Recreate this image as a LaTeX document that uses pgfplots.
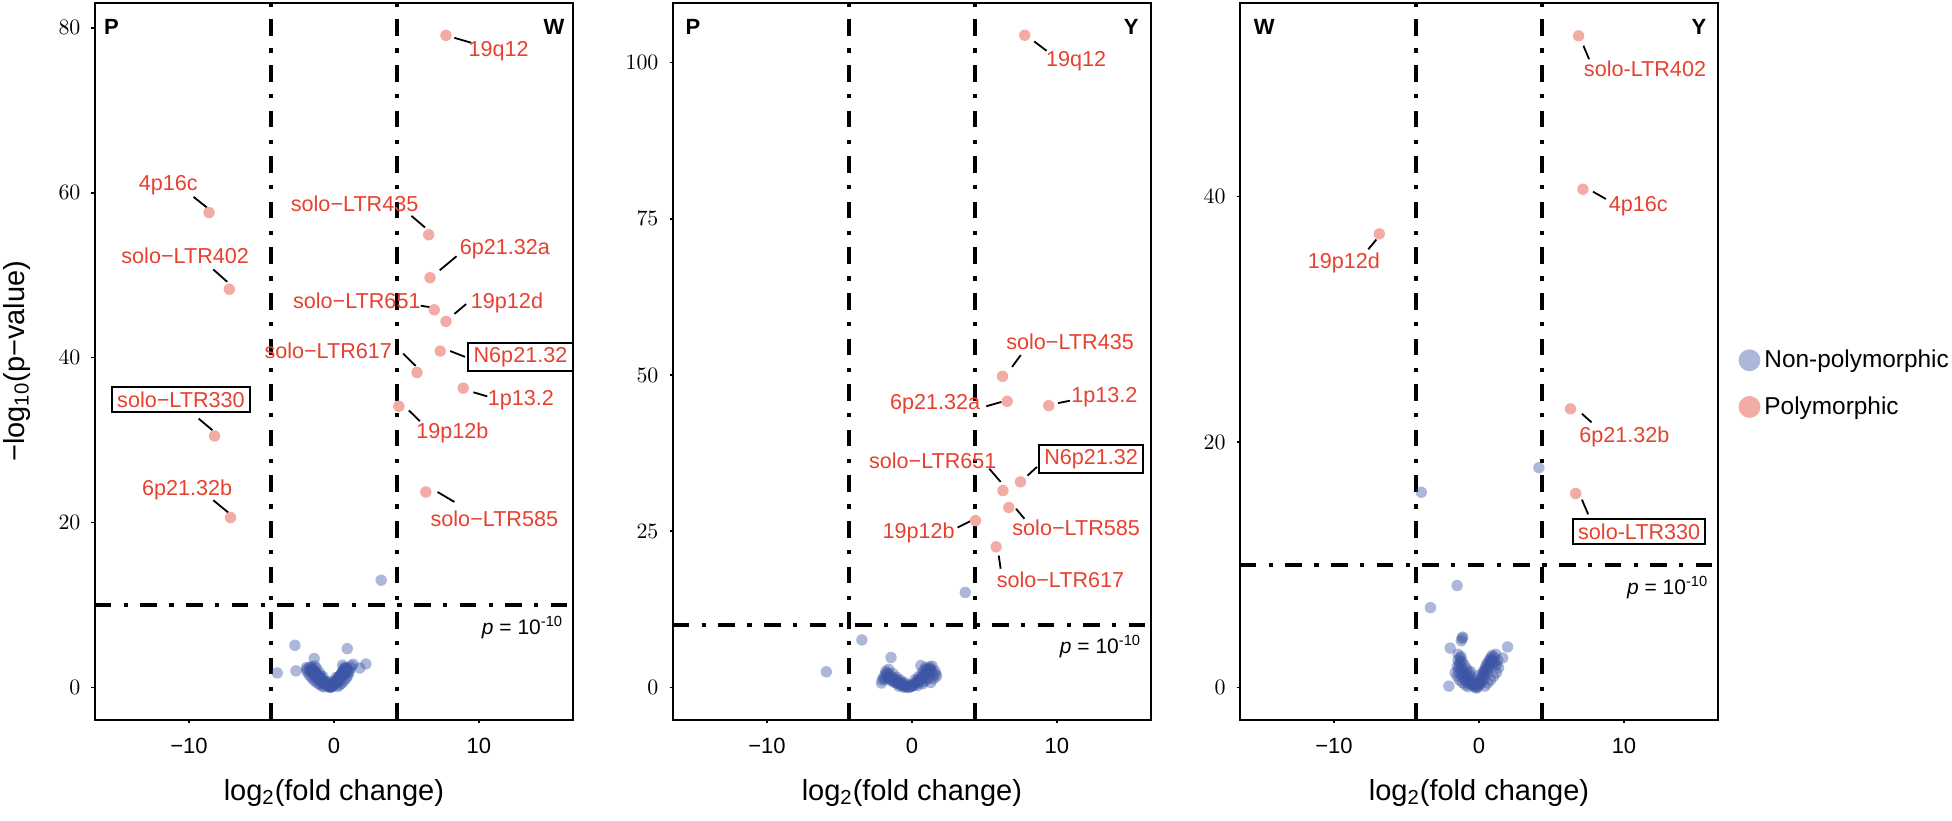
\documentclass[border=0pt]{standalone}
\usepackage{fontspec}
\setmainfont{Liberation Sans}
\usepackage{pgfplots}
\pgfplotsset{compat=1.18}

\definecolor{labred}{HTML}{E8402F}
\definecolor{ptpink}{HTML}{F3ABA5}
\definecolor{ptblue}{HTML}{3C54A5}

\pgfplotsset{
  volcano/.style={
    scale only axis, width=239.2pt, height=358.65pt, anchor=north west,
    xmin=-16.5, xmax=16.5, clip=false,
    axis line style={line width=1pt},
    tick align=outside, major tick length=1.6pt,
    tick style={line width=0.8pt, black},
    xtick={-10,0,10}, xticklabels={−10,0,10},
    xtick pos=bottom, ytick pos=left,
    ticklabel style={font=\fontsize{11}{13}\selectfont},
    xticklabel style={yshift=-4pt},
    yticklabel style={xshift=-2pt},
    xlabel={log\textsubscript{2}(fold change)},
    label style={font=\fontsize{14.5}{16}\selectfont},
    xlabel style={at={(axis description cs:0.5,-0.1018)}, anchor=center},
  },
  blue pts/.style={only marks, mark=*, mark size=2.85pt,
    mark options={fill=ptblue, fill opacity=0.42, draw opacity=0, line width=0pt},
    legend image code/.code={\fill[ptblue!42] (0pt,0pt) circle (5.25pt);}},
  pink pts/.style={only marks, mark=*, mark size=2.85pt,
    mark options={fill=ptpink, draw opacity=0, line width=0pt},
    legend image code/.code={\fill[ptpink] (0pt,0pt) circle (5.25pt);}},
  cut/.style={no marks, black, line width=2pt,
    dash pattern=on 8.3pt off 6.2pt on 2.1pt off 6.2pt},
}
\tikzset{
  lab/.style={text=labred, font=\fontsize{10.8}{12}\selectfont, inner sep=0pt},
  labbox/.style={lab, draw=black, line width=1pt, inner xsep=2.6pt, inner ysep=2.2pt},
  seg/.style={black, line width=0.9pt},
  corner/.style={font=\bfseries\fontsize{11}{13}\selectfont},
  pnote/.style={anchor=east, font=\fontsize{10.5}{12}\selectfont},
}

\begin{document}
\begin{tikzpicture}
\path[use as bounding box] (0pt,0pt) rectangle (976pt,-410pt);

% ---------------- P vs W ----------------
\begin{axis}[volcano, at={(47.35pt,-1.35pt)},
  ymin=-3.96, ymax=83.06, ytick={0,20,40,60,80},
  ylabel={−log\textsubscript{10}(p−value)},
  ylabel style={at={(axis description cs:-0.1628,0.5)}, anchor=center}]
\addplot[blue pts] coordinates {
  (3.26,13.0) (-2.69,5.1) (0.92,4.7) (-1.36,3.5) (-3.91,1.75) (-2.62,2.0)
  (-1.88,2.15) (0.6,2.7) (1.33,2.8) (1.79,2.35) (2.21,2.84) (-1.31,2.6)
  (-1.7,2.4) (-1.6,2.1) (-1.55,2.5) (-1.5,1.8) (-1.45,2.2) (-1.4,1.6)
  (-1.35,2.0) (-1.3,1.4) (-1.25,1.8) (-1.2,1.2) (-1.15,1.6) (-1.1,1.1)
  (-1.05,1.4) (-1.0,0.9) (-0.95,1.2) (-0.9,0.8) (-0.85,1.0) (-0.8,0.6)
  (-0.75,0.9) (-0.7,0.5) (-0.65,0.7) (-0.6,0.4) (-0.55,0.5) (-0.5,0.3)
  (-0.45,0.35) (-0.4,0.15) (-0.35,0.1) (-0.3,0.05) (-0.25,0.0)
  (-0.2,0.05) (-0.15,0.15) (-0.1,0.2) (-0.05,0.35) (0.0,0.4) (0.05,0.55)
  (0.1,0.6) (0.15,0.8) (0.2,0.85) (0.25,1.0) (0.3,1.1) (0.35,1.3)
  (0.4,1.35) (0.45,1.5) (0.5,1.6) (0.55,1.8) (0.6,1.9) (0.65,2.0)
  (0.7,2.2) (0.75,2.1) (0.8,2.4) (0.85,1.9) (0.9,2.3) (1.0,2.0)
  (0.7,1.6) (0.5,1.2) (0.3,0.7) (-0.5,0.6) (-0.9,1.4) (-1.2,2.3) (-1.0,1.8)
  (-1.62,1.9) (-1.42,1.9) (-1.22,1.5) (-1.02,1.1) (-0.82,0.8) (-0.62,0.6)
  (-0.42,0.3) (-0.22,0.1) (0.02,0.2) (0.22,0.6) (0.42,1.0) (0.62,1.4)
  (0.82,1.7) (0.95,2.1) (-1.5,2.3) (0.72,2.4)
  (-1.85,1.9) (-1.7,1.5) (-1.55,1.2) (-1.4,0.9) (-1.25,0.7) (-1.1,0.5)
  (-0.95,0.3) (-0.8,0.15) (-0.65,0.05) (1.15,2.3) (1.05,1.8) (0.95,1.4)
  (0.85,1.1) (0.7,0.8) (0.55,0.5) (0.4,0.3) (0.25,0.1) (-0.75,1.3)
  (0.15,1.2) (-0.35,0.7) (-0.1,0.6) (1.2,2.6) (-1.9,2.4)
};
\addplot[pink pts] coordinates {
  (7.73,79.1) (-8.61,57.6) (6.54,54.9) (6.63,49.7) (-7.21,48.3) (6.92,45.8)
  (7.73,44.4) (7.33,40.8) (5.73,38.2) (8.92,36.3) (4.48,34.1) (-8.23,30.5)
  (-7.13,20.6) (6.34,23.7)
};
\addplot[cut] coordinates {(-4.32,-3.96) (-4.32,83.06)};
\addplot[cut] coordinates {(4.32,-3.96) (4.32,83.06)};
\addplot[cut] coordinates {(-16.5,10) (16.5,10)};

\node[corner] at (axis cs:-15.34,80.1) {P};
\node[corner] at (axis cs:15.19,80.1) {W};
\node[pnote] at (axis cs:16.3,7.2) {\textit{p} = 10\textsuperscript{-10}};

\draw[seg] (axis cs:8.31,78.8) -- (axis cs:9.48,78.2);
\node[lab] at (axis cs:11.36,77.2) {19q12};
\draw[seg] (axis cs:-9.68,59.5) -- (axis cs:-8.75,58.2);
\node[lab] at (axis cs:-11.42,60.9) {4p16c};
\draw[seg] (axis cs:5.35,57.2) -- (axis cs:6.28,55.8);
\node[lab] at (axis cs:1.43,58.7) {solo−LTR435};
\draw[seg] (axis cs:8.46,52.3) -- (axis cs:7.3,50.6);
\node[lab] at (axis cs:11.79,53.1) {6p21.32a};
\draw[seg] (axis cs:-8.32,50.7) -- (axis cs:-7.36,49.2);
\node[lab] at (axis cs:-10.26,52.3) {solo−LTR402};
\draw[seg] (axis cs:5.99,46.3) -- (axis cs:6.72,46.1);
\node[lab] at (axis cs:1.58,46.9) {solo−LTR651};
\draw[seg] (axis cs:9.12,46.5) -- (axis cs:8.31,45.3);
\node[lab] at (axis cs:11.94,46.7) {19p12d};
\draw[seg] (axis cs:8.02,40.8) -- (axis cs:9.04,40.1);
\node[labbox] at (axis cs:12.87,40.1) {N6p21.32};
\draw[seg] (axis cs:4.77,40.5) -- (axis cs:5.64,39.0);
\node[lab] at (axis cs:-0.39,40.8) {solo−LTR617};
\draw[seg] (axis cs:9.62,35.8) -- (axis cs:10.58,35.3);
\node[lab] at (axis cs:12.9,34.8) {1p13.2};
\draw[seg] (axis cs:-9.33,32.6) -- (axis cs:-8.38,31.2);
\node[labbox] at (axis cs:-10.55,34.9) {solo−LTR330};
\draw[seg] (axis cs:5.17,33.6) -- (axis cs:5.93,32.3);
\node[lab] at (axis cs:8.17,30.9) {19p12b};
\draw[seg] (axis cs:-8.32,22.7) -- (axis cs:-7.28,21.2);
\node[lab] at (axis cs:-10.12,24.0) {6p21.32b};
\draw[seg] (axis cs:7.15,23.7) -- (axis cs:8.31,22.5);
\node[lab] at (axis cs:11.07,20.4) {solo−LTR585};
\end{axis}

% ---------------- P vs Y ----------------
\begin{axis}[volcano, at={(336.35pt,-1.35pt)},
  ymin=-5.22, ymax=109.6, ytick={0,25,50,75,100}]
\addplot[blue pts] coordinates {
  (3.68,15.2) (-3.45,7.6) (-5.9,2.5) (-1.44,4.8) (0.62,3.5) (1.65,2.1)
  (-2.05,1.2) (-1.95,1.6) (-1.85,2.0) (-1.8,2.6) (-1.7,1.5) (-1.65,2.2)
  (-1.55,1.9) (-1.5,1.2) (-1.4,1.7) (-1.35,1.0) (-1.25,1.4) (-1.2,0.8)
  (-1.1,1.2) (-1.0,0.6) (-0.95,1.0) (-0.85,0.5) (-0.8,0.8) (-0.7,0.3)
  (-0.6,0.5) (-0.5,0.2) (-0.4,0.3) (-0.3,0.05) (-0.2,0.0)
  (-0.1,0.1) (0.0,0.3) (0.1,0.4) (0.2,0.7) (0.3,0.8) (0.4,1.1) (0.5,1.2)
  (0.6,1.5) (0.7,1.6) (0.8,1.9) (0.9,2.1) (1.0,2.4) (1.1,2.7) (1.2,3.0)
  (1.25,3.3) (1.35,2.6) (1.45,2.1) (1.5,1.4) (1.3,0.8) (1.2,1.5) (1.0,1.2)
  (0.8,0.9) (1.4,3.4) (1.6,2.6) (0.95,3.2)
  (-1.9,1.3) (-1.6,1.5) (-1.3,1.1) (-1.05,0.8) (-0.75,0.5) (-0.45,0.2)
  (0.05,0.2) (0.35,0.6) (0.65,1.1) (0.95,1.6) (1.15,2.2) (1.3,2.9)
  (-1.75,2.3) (1.05,2.9)
  (-1.6,2.9) (-1.3,2.2) (-1.05,1.6) (-0.8,1.2) (-0.55,0.8) (-0.3,0.5)
  (0.2,1.2) (0.45,1.7) (0.7,2.3) (0.85,2.8) (-2.1,0.7) (1.7,1.8)
  (-0.9,0.2) (-0.55,0.0) (0.4,0.3) (0.75,0.6)
};
\addplot[pink pts] coordinates {
  (7.78,104.4) (6.25,49.8) (6.57,45.8) (9.44,45.1) (7.49,32.9) (6.28,31.5)
  (6.68,28.8) (4.39,26.7) (5.81,22.5)
};
\addplot[cut] coordinates {(-4.32,-5.22) (-4.32,109.6)};
\addplot[cut] coordinates {(4.32,-5.22) (4.32,109.6)};
\addplot[cut] coordinates {(-16.5,10) (16.5,10)};

\node[corner] at (axis cs:-15.1,105.8) {P};
\node[corner] at (axis cs:15.12,105.8) {Y};
\node[pnote] at (axis cs:16.3,6.6) {\textit{p} = 10\textsuperscript{-10}};

\draw[seg] (axis cs:8.44,103.4) -- (axis cs:9.29,101.9);
\node[lab] at (axis cs:11.33,100.3) {19q12};
\draw[seg] (axis cs:7.51,53.2) -- (axis cs:6.91,51.3);
\node[lab] at (axis cs:10.91,55.4) {solo−LTR435};
\draw[seg] (axis cs:5.13,45.0) -- (axis cs:6.18,45.7);
\node[lab] at (axis cs:1.6,45.3) {6p21.32a};
\draw[seg] (axis cs:10.07,45.5) -- (axis cs:10.91,45.9);
\node[lab] at (axis cs:13.28,46.5) {1p13.2};
\draw[seg] (axis cs:5.34,35.0) -- (axis cs:6.12,32.9);
\node[lab] at (axis cs:1.44,36.3) {solo−LTR651};
\draw[seg] (axis cs:7.97,33.9) -- (axis cs:8.63,35.3);
\node[labbox] at (axis cs:12.36,36.6) {N6p21.32};
\draw[seg] (axis cs:7.18,28.6) -- (axis cs:7.76,27.0);
\node[lab] at (axis cs:11.33,25.6) {solo−LTR585};
\draw[seg] (axis cs:3.15,25.6) -- (axis cs:4.02,26.6);
\node[lab] at (axis cs:0.47,24.7) {19p12b};
\draw[seg] (axis cs:5.99,21.1) -- (axis cs:6.12,19.0);
\node[lab] at (axis cs:10.25,17.2) {solo−LTR617};
\end{axis}

% ---------------- W vs Y ----------------
\begin{axis}[volcano, at={(619.9pt,-1.35pt)},
  ymin=-2.66, ymax=55.8, ytick={0,20,40},
  legend style={at={(rel axis cs:1,0.469)}, anchor=west, xshift=7pt,
    draw=none, fill=none, font=\fontsize{12.2}{14}\selectfont,
    row sep=9pt, /tikz/every even column/.append style={column sep=3.5pt}},
  legend cell align=left]
\addplot[blue pts] coordinates {
  (4.13,17.9) (-3.98,15.9) (-1.51,8.3) (-3.35,6.5) (-1.17,4.0) (-1.22,3.8)
  (-1.12,4.1) (-1.99,3.2) (1.97,3.3) (-1.24,2.5) (1.63,2.4) (-2.08,0.1)
  (-1.5,1.7) (-1.45,2.2) (-1.4,1.3) (-1.35,1.9) (-1.3,2.4) (-1.25,1.0)
  (-1.2,1.6) (-1.15,2.1) (-1.1,0.8) (-1.05,1.3) (-1.0,1.8) (-0.95,0.6)
  (-0.9,1.1) (-0.85,1.5) (-0.8,0.4) (-0.75,0.9) (-0.7,1.2) (-0.65,0.3)
  (-0.6,0.6) (-0.55,0.9) (-0.5,0.2) (-0.45,0.4) (-0.4,0.6) (-0.35,0.1)
  (-0.3,0.3) (-0.25,0.0) (-0.2,0.2) (-0.15,-0.05) (-0.1,0.05)
  (0.0,0.2) (0.05,0.4) (0.1,0.5) (0.15,0.7) (0.2,0.9) (0.25,1.0) (0.3,1.2)
  (0.35,1.4) (0.4,1.3) (0.45,1.6) (0.5,1.8) (0.55,1.5) (0.6,2.0) (0.65,1.7)
  (0.7,2.2) (0.75,1.9) (0.8,2.4) (0.85,2.0) (0.9,2.6) (0.95,2.2) (1.0,2.5)
  (1.1,2.1) (1.2,1.8) (1.3,2.2) (0.3,0.6) (0.6,1.2)
  (-1.38,1.6) (-1.12,1.2) (-0.88,0.8) (-0.62,0.5) (-0.38,0.2) (0.12,0.3)
  (0.38,0.9) (0.62,1.5) (0.88,2.3) (1.05,1.9) (-1.28,2.1) (0.78,2.1)
  (-1.65,1.2) (-1.5,0.9) (-1.35,0.6) (-1.15,0.4) (-0.95,0.2) (-0.75,0.05)
  (1.35,1.6) (1.2,1.2) (1.0,0.9) (0.8,0.6) (0.6,0.35) (0.4,0.1)
  (-0.6,1.3) (0.0,1.0) (-1.45,2.7) (1.15,2.7)
};
\addlegendentry{Non-polymorphic}
\addplot[pink pts] coordinates {
  (6.87,53.1) (7.17,40.6) (-6.88,36.96) (6.31,22.7) (6.67,15.8)
};
\addlegendentry{Polymorphic}
\addplot[cut, forget plot] coordinates {(-4.32,-2.66) (-4.32,55.8)};
\addplot[cut, forget plot] coordinates {(4.32,-2.66) (4.32,55.8)};
\addplot[cut, forget plot] coordinates {(-16.5,10) (16.5,10)};

\node[corner] at (axis cs:-14.82,53.8) {W};
\node[corner] at (axis cs:15.18,53.8) {Y};
\node[pnote] at (axis cs:16.3,8.1) {\textit{p} = 10\textsuperscript{-10}};

\draw[seg] (axis cs:7.2,52.3) -- (axis cs:7.59,51.2);
\node[lab] at (axis cs:11.45,50.4) {solo-LTR402};
\draw[seg] (axis cs:7.86,40.4) -- (axis cs:8.75,39.8);
\node[lab] at (axis cs:10.99,39.2) {4p16c};
\draw[seg] (axis cs:-7.08,36.5) -- (axis cs:-7.64,35.7);
\node[lab] at (axis cs:-9.32,34.6) {19p12d};
\draw[seg] (axis cs:7.1,22.3) -- (axis cs:7.76,21.6);
\node[lab] at (axis cs:10.03,20.4) {6p21.32b};
\draw[seg] (axis cs:7.1,15.3) -- (axis cs:7.53,14.1);
\node[labbox] at (axis cs:11.05,12.7) {solo-LTR330};
\end{axis}
\end{tikzpicture}
\end{document}
